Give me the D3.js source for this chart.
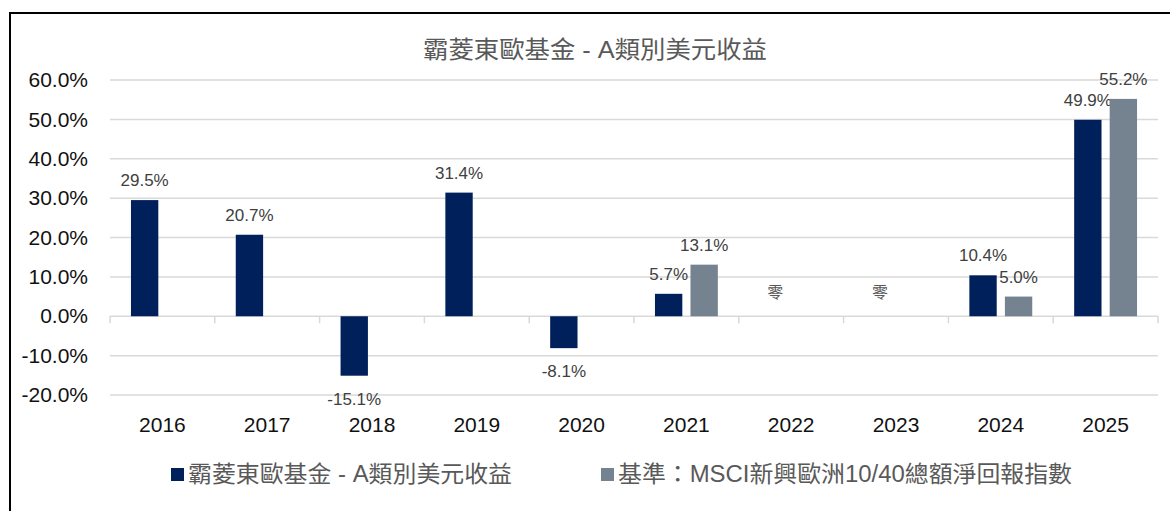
<!DOCTYPE html>
<html>
<head>
<meta charset="utf-8">
<script src="https://cdn.jsdelivr.net/npm/d3@7"></script>
<style>
    body { margin: 0; background: #fff; }
    text { font-family: "Liberation Sans", Arial, "Noto Sans CJK TC", sans-serif; }
</style>
</head>
<body>
<svg id="drawing_region"></svg>
<script>
const years = ['2016','2017','2018','2019','2020','2021','2022','2023','2024','2025'];
const fund = [29.5, 20.7, -15.1, 31.4, -8.1, 5.7, null, null, 10.4, 49.9];
const bench = [null, null, null, null, null, 13.1, null, null, 5.0, 55.2];
const zeroYears = ['2022','2023'];
const seriesNames = ['霸菱東歐基金 - A類別美元收益', '基準：MSCI新興歐洲10/40總額淨回報指數'];
const yTicks = [-20, -10, 0, 10, 20, 30, 40, 50, 60];
const title = '霸菱東歐基金 - A類別美元收益';

class BarChart {

    constructor( config ) {
        this.config = config;
        this.init();
    }

    init() {
        let self = this;

        self.svg = d3.select( self.config.parent )
            .attr('width', self.config.width)
            .attr('height', self.config.height);

        // frame
        self.svg.append('rect')
            .attr('x', 10).attr('y', 13)
            .attr('width', 1200).attr('height', 540)
            .attr('fill', 'none')
            .attr('stroke', '#000')
            .attr('stroke-width', 2);

        self.svg.append('text')
            .attr('x', 595)
            .attr('y', 58)
            .attr('text-anchor', 'middle')
            .attr('fill', '#595959')
            .attr('textLength', 344)
            .attr('lengthAdjust', 'spacingAndGlyphs')
            .style('font-size', '24px')
            .text(title);

        self.xscale = d3.scaleBand()
            .domain(years)
            .range([110, 1158])
            .paddingInner(0.4)
            .paddingOuter(0.2);

        self.x1 = d3.scaleBand()
            .domain([0, 1])
            .range([0, self.xscale.bandwidth()])
            .paddingInner(0.23);

        self.yscale = d3.scaleLinear()
            .domain([-20, 60])
            .range([395, 80]);
    }

    render() {
        let self = this;
        const step = self.xscale.step();

        // gridlines
        self.svg.append('g')
            .selectAll('line')
            .data(yTicks)
            .join('line')
            .attr('x1', 110).attr('x2', 1158)
            .attr('y1', d => self.yscale(d)).attr('y2', d => self.yscale(d))
            .attr('stroke', '#d9d9d9')
            .attr('stroke-width', 1.5);

        // y axis labels
        const yaxis = d3.axisLeft(self.yscale)
            .tickValues(yTicks)
            .tickFormat(d => d.toFixed(1) + '%')
            .tickSize(0)
            .tickPadding(22);
        const yg = self.svg.append('g')
            .attr('transform', 'translate(110,0)')
            .call(yaxis);
        yg.select('.domain').remove();
        yg.selectAll('text')
            .attr('fill', '#111')
            .style('font-size', '21px')
            .style('font-family', '"Liberation Sans", Arial, sans-serif');

        // x tick marks on the zero line
        self.svg.append('g')
            .selectAll('line')
            .data(years.concat(['end']))
            .join('line')
            .attr('x1', (d, i) => 110 + i * step)
            .attr('x2', (d, i) => 110 + i * step)
            .attr('y1', self.yscale(0))
            .attr('y2', self.yscale(0) + 7)
            .attr('stroke', '#d9d9d9')
            .attr('stroke-width', 1.5);

        // x labels
        self.svg.append('g')
            .selectAll('text')
            .data(years)
            .join('text')
            .attr('x', d => self.xscale(d) + self.xscale.bandwidth() / 2)
            .attr('y', 432)
            .attr('text-anchor', 'middle')
            .attr('fill', '#111')
            .style('font-size', '21px')
            .text(d => d);

        const colors = ['#00205b', '#758390'];
        const series = [fund, bench];

        series.forEach((vals, s) => {
            const data = years.map((y, i) => ({ year: y, v: vals[i] })).filter(d => d.v !== null);
            const g = self.svg.append('g');
            g.selectAll('rect')
                .data(data)
                .join('rect')
                .attr('x', d => self.xscale(d.year) + self.x1(s))
                .attr('width', self.x1.bandwidth())
                .attr('y', d => self.yscale(Math.max(0, d.v)))
                .attr('height', d => Math.abs(self.yscale(d.v) - self.yscale(0)))
                .attr('fill', colors[s]);

            g.selectAll('text')
                .data(data)
                .join('text')
                .attr('x', d => self.xscale(d.year) + self.x1(s) + self.x1.bandwidth() / 2)
                .attr('y', d => d.v >= 0 ? self.yscale(d.v) - 14 : self.yscale(d.v) + 29)
                .attr('text-anchor', 'middle')
                .attr('fill', '#404040')
                .style('font-size', '17px')
                .text(d => d.v.toFixed(1) + '%');
        });

        // zero labels
        self.svg.append('g')
            .selectAll('text')
            .data(zeroYears)
            .join('text')
            .attr('x', d => self.xscale(d) + self.xscale.bandwidth() / 2 - 16)
            .attr('y', self.yscale(0) - 18)
            .attr('text-anchor', 'middle')
            .attr('fill', '#595959')
            .style('font-size', '16px')
            .style('font-family', '"Noto Sans CJK TC", sans-serif')
            .text('零');

        // legend
        const legendX = [171, 601];
        const legendW = [324, 454];
        const lg = self.svg.append('g');
        seriesNames.forEach((name, i) => {
            lg.append('rect')
                .attr('x', legendX[i]).attr('y', 468)
                .attr('width', 13).attr('height', 13)
                .attr('fill', colors[i]);
            lg.append('text')
                .attr('x', legendX[i] + 17)
                .attr('y', 482)
                .attr('fill', '#595959')
                .attr('textLength', legendW[i])
                .attr('lengthAdjust', 'spacingAndGlyphs')
                .style('font-size', '23px')
                .text(name);
        });
    }
}

const bar_chart = new BarChart({
    parent: '#drawing_region',
    width: 1170,
    height: 511
});
bar_chart.render();
</script>
</body>
</html>
